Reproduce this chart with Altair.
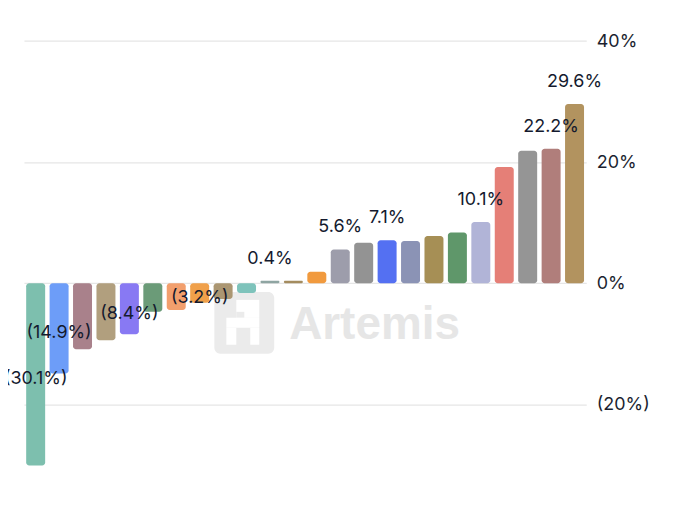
import altair as alt
import pandas as pd

categories = [f"Asset {i}" for i in range(1, 25)]
values = [-30.1, -14.9, -10.9, -9.4, -8.4, -4.7, -4.4, -3.2, -2.6, -1.6,
          0.4, 0.4, 1.9, 5.6, 6.7, 7.1, 7.0, 7.8, 8.4, 10.1, 19.2, 21.9, 22.2, 29.6]
labels = ["(30.1%)", "(14.9%)", "", "", "(8.4%)", "", "", "(3.2%)", "", "",
          "0.4%", "", "", "5.6%", "", "7.1%", "", "", "", "10.1%", "", "", "22.2%", "29.6%"]
colors = ["#7dbfae", "#6d9df8", "#a9818b", "#b19f7e", "#8879f3", "#6b9b78",
          "#f29f6d", "#f0a04a", "#ab9672", "#7ec3bb", "#8fa5a2", "#a48c5f",
          "#f19a3e", "#9d9dab", "#939393", "#5470f2", "#8b93b5", "#a68f55",
          "#5f976a", "#b1b4d7", "#e57f77", "#959595", "#b07e7b", "#b2935f"]
y_ticks = [-20, 0, 20, 40]

df = pd.DataFrame({"cat": categories, "value": values, "label": labels, "color": colors})
df["mid"] = df["value"] / 2

xscale = alt.Scale(paddingInner=0.19, paddingOuter=0.095)
yscale = alt.Scale(domain=[-35, 45], nice=False, zero=False)

x_enc = alt.X("cat:N", sort=None, axis=None, scale=xscale)

bars = alt.Chart(df).mark_bar(cornerRadius=3).encode(
    x=x_enc,
    y=alt.Y("value:Q", scale=yscale,
            axis=alt.Axis(orient="right", values=y_ticks, title=None,
                          labelExpr="datum.value < 0 ? '(' + abs(datum.value) + '%)' : datum.value + '%'",
                          labelFontSize=18, labelColor="#1b1f30", labelFont="Inter",
                          labelPadding=10, ticks=False, domain=False,
                          grid=True, gridColor="#e6e6e6", gridWidth=1.2)),
    y2=alt.datum(0),
    color=alt.Color("color:N", scale=None),
)

neg_labels = alt.Chart(df).transform_filter("datum.value < 0 && datum.label != ''").mark_text(
    fontSize=18, font="Inter", color="#141a2e", baseline="middle", dy=5
).encode(x=x_enc, y=alt.Y("mid:Q", scale=yscale), text="label:N")

pos_labels = alt.Chart(df).transform_filter("datum.value >= 0 && datum.label != ''").mark_text(
    fontSize=18, font="Inter", color="#141a2e", baseline="middle", dy=-22
).encode(x=x_enc, y=alt.Y("value:Q", scale=yscale), text="label:N")

def box(x1, x2, y1, y2, color, r=0):
    return alt.Chart(alt.Data(values=[{}])).mark_rect(color=color, cornerRadius=r).encode(
        x=alt.value(x1), x2=alt.value(x2), y=alt.value(y1), y2=alt.value(y2))

logo = [
    box(191, 251, 282, 344, "#ebebeb", 6),
    box(213, 236, 290, 308, "white"),
    box(213, 221, 302, 308, "#ebebeb"),
    box(203, 236, 308, 318, "white"),
    box(203, 213, 318, 335, "white"),
    box(227, 236, 318, 335, "white"),
]
wm_text = alt.Chart(alt.Data(values=[{}])).mark_text(
    text="Artemis", font="Liberation Sans", fontWeight="bold", fontSize=46,
    color="#e6e6e6", align="left", baseline="middle"
).encode(x=alt.value(266), y=alt.value(315))

chart = alt.layer(*logo, wm_text, bars, neg_labels, pos_labels).properties(
    width=564, height=486,
    padding={"left": 16, "top": 2, "right": 85, "bottom": 10},
    autosize=alt.AutoSizeParams(type="none"),
    background="white",
).configure_view(stroke=None)

chart.save("out.html", embed_options={"renderer": "svg", "actions": False})
